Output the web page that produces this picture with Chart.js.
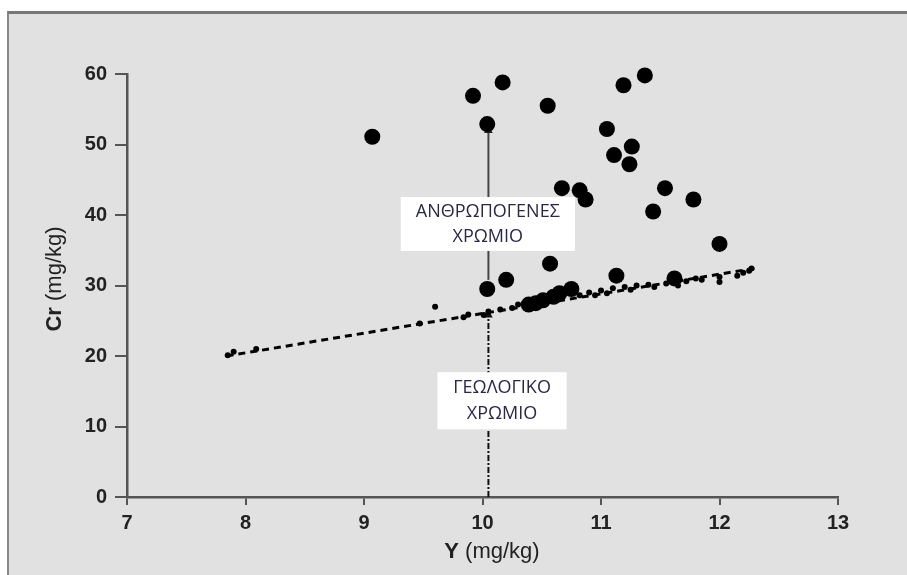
<!DOCTYPE html>
<html>
<head>
<meta charset="utf-8">
<script src="https://cdn.jsdelivr.net/npm/chart.js@4.4.1/dist/chart.umd.min.js"></script>
<style>
  html, body { margin: 0; padding: 0; background: #fff; overflow: hidden; }
  #frame {
    position: absolute; left: 7px; top: 11px; width: 1000px; height: 700px;
    background: #e1e1e1; border-top: 3px solid #777; border-left: 2px solid #888;
  }
  #wrap { position: absolute; left: 0; top: 0; width: 907px; height: 575px; }
</style>
</head>
<body>
<div id="frame"></div>
<div id="wrap"><canvas id="chart"></canvas></div>
<script>
// Y (mg/kg) vs Cr (mg/kg)
const X_RANGE = [7, 13];
const Y_RANGE = [0, 60];

// large dots (anthropogenic + cluster along the line)
const bigX = [9.07, 9.92, 10.04, 10.17, 10.55, 11.05, 11.11, 11.19, 11.24, 11.26, 11.37,
  10.67, 10.82, 10.87, 11.44, 11.54, 11.78, 12.0, 10.57, 10.2, 10.04, 11.13, 11.62,
  10.39, 10.45, 10.51, 10.6, 10.65, 10.75];
const bigY = [51.1, 56.9, 52.9, 58.8, 55.5, 52.2, 48.5, 58.4, 47.2, 49.7, 59.8,
  43.8, 43.5, 42.2, 40.5, 43.8, 42.2, 35.9, 33.1, 30.8, 29.5, 31.4, 31.0,
  27.3, 27.5, 27.9, 28.4, 28.9, 29.5];

// small dots (geological background)
const smallX = [7.85, 7.9, 8.09, 9.47, 9.6, 9.84, 9.88, 10.01, 10.05, 10.15, 10.25, 10.3,
  10.82, 10.9, 10.95, 11.0, 11.05, 11.1, 11.2, 11.25, 11.3, 11.4, 11.45, 11.55, 11.65,
  11.72, 11.8, 11.85, 12.0, 12.0, 12.15, 12.2, 12.25, 12.27];
const smallY = [20.1, 20.6, 21.0, 24.6, 27.0, 25.5, 25.9, 25.8, 26.3, 26.6, 26.8, 27.3,
  28.6, 29.0, 28.6, 29.3, 28.9, 29.6, 29.8, 29.4, 30.0, 30.1, 29.8, 30.3, 30.0,
  30.6, 31.0, 30.8, 30.5, 31.2, 31.4, 31.8, 32.1, 32.4];

// dashed trend line
const trendX = [7.84, 12.32];
const trendY = [20.0, 32.5];

// arrows (x position, y from, y to)
const arrowX = 10.05;
const upperArrowY = [30.8, 52.0];
const lowerArrowY = [0, 25.8];

const labelTop = ["ΑΝΘΡΩΠΟΓΕΝΕΣ", "ΧΡΩΜΙΟ"];
const labelBottom = ["ΓΕΩΛΟΓΙΚΟ", "ΧΡΩΜΙΟ"];

const toPts = (xs, ys) => xs.map((x, i) => ({ x, y: ys[i] }));

const boxPlugin = {
  id: "boxes",
  afterDatasetsDraw(chart) {
    const { ctx, scales: { x, y } } = chart;
    const boxes = [
      { x0: 9.31, x1: 10.78, y0: 42.55, y1: 34.9, lines: labelTop, off: [15, 40] },
      { x0: 9.62, x1: 10.71, y0: 17.7, y1: 9.6, lines: labelBottom, off: [16, 42] },
    ];
    ctx.save();
    boxes.forEach((b) => {
      const left = x.getPixelForValue(b.x0);
      const right = x.getPixelForValue(b.x1);
      const top = y.getPixelForValue(b.y0);
      const bottom = y.getPixelForValue(b.y1);
      ctx.fillStyle = "#ffffff";
      ctx.fillRect(left, top, right - left, bottom - top);
      ctx.fillStyle = "#2a2845";
      ctx.font = "18px 'Open Sans'";
      ctx.textAlign = "center";
      ctx.textBaseline = "middle";
      b.lines.forEach((t, i) => ctx.fillText(t, (left + right) / 2, top + b.off[i]));
    });
    ctx.restore();
  },
};

function drawMixed(ctx, boldPart, normalPart, cx, cy) {
  ctx.font = "bold 22px 'Liberation Sans'";
  const w1 = ctx.measureText(boldPart).width;
  ctx.font = "22px 'Liberation Sans'";
  const w2 = ctx.measureText(normalPart).width;
  const start = cx - (w1 + w2) / 2;
  ctx.textAlign = "left";
  ctx.textBaseline = "middle";
  ctx.font = "bold 22px 'Liberation Sans'";
  ctx.fillText(boldPart, start, cy);
  ctx.font = "22px 'Liberation Sans'";
  ctx.fillText(normalPart, start + w1, cy);
}

const titlePlugin = {
  id: "titles",
  afterDraw(chart) {
    const { ctx, chartArea } = chart;
    ctx.save();
    ctx.fillStyle = "#222";
    drawMixed(ctx, "Y", " (mg/kg)", chartArea.left + 365, chartArea.bottom + 55);
    ctx.translate(55, chartArea.top + 205);
    ctx.rotate(-Math.PI / 2);
    drawMixed(ctx, "Cr", " (mg/kg)", 0, 0);
    ctx.restore();
  },
};

new Chart(document.getElementById("chart"), {
  type: "scatter",
  data: {
    datasets: [
      {
        data: toPts(bigX, bigY),
        backgroundColor: "#000",
        borderWidth: 0,
        pointRadius: 8,
        clip: false,
      },
      {
        data: toPts(smallX, smallY),
        backgroundColor: "#000",
        borderWidth: 0,
        pointRadius: 3,
        clip: false,
      },
      {
        data: toPts(trendX, trendY),
        showLine: true,
        borderColor: "#000",
        borderWidth: 3,
        borderDash: [7, 5],
        pointRadius: 0,
      },
      {
        data: toPts([arrowX, arrowX], upperArrowY),
        showLine: true,
        borderColor: "#444",
        borderWidth: 2,
        pointStyle: "triangle",
        pointRadius: [0, 5],
        backgroundColor: "#222",
        pointBorderWidth: 0,
      },
      {
        data: toPts([arrowX, arrowX], lowerArrowY),
        showLine: true,
        borderColor: "#111",
        borderWidth: 2,
        borderDash: [6, 2, 2, 2],
        pointStyle: "triangle",
        pointRadius: [0, 5],
        backgroundColor: "#111",
        pointBorderWidth: 0,
      },
    ],
  },
  options: {
    responsive: true,
    maintainAspectRatio: false,
    animation: false,
    layout: { padding: { left: 0, right: 69, top: 74, bottom: 0 } },
    plugins: { legend: { display: false }, tooltip: { enabled: false } },
    scales: {
      x: {
        type: "linear",
        min: X_RANGE[0],
        max: X_RANGE[1],
        ticks: {
          stepSize: 1,
          color: "#222",
          padding: 6,
          font: { family: "'Liberation Sans'", size: 20, weight: "bold" },
        },
        grid: { drawOnChartArea: false, drawTicks: true, tickLength: 8, color: "#555", lineWidth: 2 },
        border: { color: "#555", width: 2.5 },
        afterFit: (s) => { s.height = 78; },
      },
      y: {
        min: Y_RANGE[0],
        max: Y_RANGE[1],
        ticks: {
          stepSize: 10,
          color: "#222",
          padding: 8,
          font: { family: "'Liberation Sans'", size: 20, weight: "bold" },
        },
        grid: { drawOnChartArea: false, drawTicks: true, tickLength: 12, color: "#555", lineWidth: 2 },
        border: { color: "#555", width: 2.5 },
        afterFit: (s) => { s.width = 127; },
      },
    },
  },
  plugins: [boxPlugin, titlePlugin],
});
</script>
</body>
</html>
